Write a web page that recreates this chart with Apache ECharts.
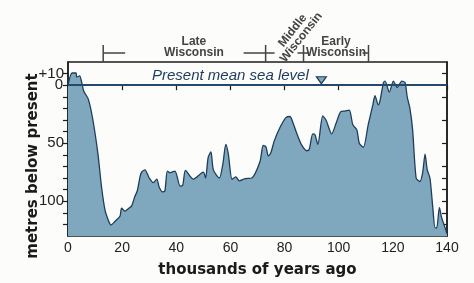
<!DOCTYPE html>
<html>
<head>
<meta charset="utf-8">
<script src="https://cdn.jsdelivr.net/npm/echarts@6/dist/echarts.min.js"></script>
<style>
html,body{margin:0;padding:0;background:#fcfcfa;}
#c{width:474px;height:283px;}
</style>
</head>
<body>
<div id="c"></div>
<script>
// ages (thousands of years ago)
const ages = [0,1.5,3.0,3.2,4.3,5.0,5.8,7.5,9.2,11.1,12.4,13.7,15,15.9,17.5,19.2,19.8,21,22.5,23.5,24.7,25.6,26.6,27.2,28.4,30,31.5,32.8,33.7,35,35.8,36.7,37.7,39.5,41.4,42.4,43.4,46.3,50,50.8,51.8,52.8,53.7,55.9,57.2,58.3,59.2,60.6,62,63.3,65.4,67.9,70.9,72.1,73.1,74,74.9,76.2,78.3,80.5,82,83.2,84.5,86.3,88.2,89.1,90.4,91.2,92.3,94.1,95.3,97.4,99.3,100.7,102.3,103.9,105.2,106.7,107.6,109.1,110.9,112.6,113.4,114.6,115.3,116.5,117.1,118.7,120.2,121.6,123.3,124.5,125.3,126.3,127.3,128.6,130,131,131.9,132.7,133.7,134.7,135.6,136.2,137.2,138,139.3,140];
// metres below present sea level (negative = above)
const depths = [0,-10.5,-10.5,-7,-8,-3,5,12,30,60,88,108,117,120.5,117,113,106,108.5,106,104,96,91,79,75,73,80,84,81,88,92,91,74,75.5,74,87,86,73.5,81,75,80,62,57.5,73,80,68,51,59,81,79,82.5,80.5,80,66,52,53,61,58.5,48,36.5,28,27,33,41.5,51.5,56.5,55.5,42,42.5,51,26.5,30,42,31,23,22.3,21.5,34,38.5,50,53.5,34,17,9,17,13,-2,-3.5,6,-3.5,2,-3.5,-2.3,10,20,38.5,80,83,75.5,59.5,73,80,104,123,123,105.5,114,123,128];
const xTicks = [0,20,40,60,80,100,120,140];
const yLabelValues = [-10,50,100];
const yLabelValues2 = [0];
const yLeftTicks = [-10,0,10,20,30,40,50,60,70,80,90,100,110,120];
const yRightTicks = [-10,10,30,50,70,80,90,100,110,120];
const periodBounds = [13,73,87,111];
const periodNames = ['Late\nWisconsin','Middle\nWisconsin','Early\nWisconsin'];
const periodLabelAges = [46.5,null,99];
const seaLevelText = 'Present mean sea level';
const seaMarker = [93.6,-4.3];

const chart = echarts.init(document.getElementById('c'), null, {renderer:'canvas'});
const dark = '#1d1d1d';
const lineBlue = '#1e3d5c';
const fillBlue = '#7fa8be';
const fontFam = '"Liberation Sans", Arial, sans-serif';
const fmt = v=> v<0 ? '+'+(-v) : String(v);
const yLabelStyle = {color:'#222',fontSize:15,fontFamily:fontFam,margin:4,hideOverlap:false,formatter:fmt};

chart.setOption({
  backgroundColor:'#fcfcfa',
  animation:false,
  grid:{left:68,right:27,top:62,bottom:46,show:true,borderColor:dark,borderWidth:1.5,backgroundColor:'transparent'},
  xAxis:{type:'value',min:0,max:140,interval:20,
    axisLine:{show:true,lineStyle:{color:dark,width:1.5}},
    axisTick:{show:true,length:5,lineStyle:{color:dark,width:1.2},customValues:xTicks},
    axisLabel:{color:'#222',fontSize:14,fontFamily:fontFam,margin:5,customValues:xTicks,hideOverlap:false},
    splitLine:{show:false},
    name:'thousands of years ago',nameLocation:'middle',nameGap:27,
    nameTextStyle:{fontSize:15,fontWeight:'bold',color:'#1a1a1a',fontFamily:'"DejaVu Sans", sans-serif'}
  },
  yAxis:[{type:'value',inverse:true,min:-20,max:130,interval:10,
    axisLine:{show:true,lineStyle:{color:dark,width:1.5}},
    axisTick:{show:true,length:5,lineStyle:{color:dark,width:1.2},customValues:yLeftTicks},
    axisLabel:Object.assign({customValues:yLabelValues},yLabelStyle),
    splitLine:{show:false}
  },{type:'value',inverse:true,min:-20,max:130,interval:10,position:'right',
    axisLine:{show:true,lineStyle:{color:dark,width:1.5}},
    axisTick:{show:true,inside:true,length:5,lineStyle:{color:dark,width:1.2},customValues:yRightTicks},
    axisLabel:{show:false},splitLine:{show:false}
  },{type:'value',inverse:true,min:-20,max:130,interval:10,position:'left',offset:0,
    axisLine:{show:false},axisTick:{show:false},splitLine:{show:false},
    axisLabel:Object.assign({customValues:yLabelValues2},yLabelStyle,{margin:5})
  }],
  series:[{
    type:'line',data:ages.map((a,i)=>[a,depths[i]]),
    smooth:0.25,symbol:'none',
    lineStyle:{color:lineBlue,width:1.3},
    areaStyle:{color:fillBlue,opacity:1,origin:'end'},
    markLine:{silent:true,symbol:'none',label:{show:false},
      lineStyle:{color:'#234a6d',width:2,type:'solid'},data:[{yAxis:0}]},
    markPoint:{silent:true,symbol:'triangle',symbolRotate:180,symbolSize:[10,7],
      itemStyle:{color:fillBlue,borderColor:lineBlue,borderWidth:1.2},
      label:{show:false},data:[{coord:seaMarker}]},
    z:2
  }]
});

function px(x,y){return chart.convertToPixel({gridIndex:0},[x,y]);}
const gTop = 62;
const els = [];
const bx = periodBounds.map(b=>px(b,0)[0]);
const br = {stroke:'#444',lineWidth:1.5};
const yBar = 53;
bx.forEach(x=>{
  els.push({type:'line',shape:{x1:x,y1:45,x2:x,y2:gTop},style:br});
});
// horizontal bracket arms
els.push({type:'line',shape:{x1:bx[0],y1:yBar,x2:bx[0]+22,y2:yBar},style:br});
els.push({type:'line',shape:{x1:bx[1]-22,y1:yBar,x2:bx[1]+9,y2:yBar},style:br});
els.push({type:'line',shape:{x1:bx[2]-6,y1:yBar,x2:bx[2]+6,y2:yBar},style:br});
els.push({type:'line',shape:{x1:bx[3]-6,y1:yBar,x2:bx[3],y2:yBar},style:br});
const tf = {fill:'#444',font:'bold 12px '+fontFam,align:'center',verticalAlign:'middle',lineHeight:11};
els.push({type:'text',x:px(periodLabelAges[0],0)[0],y:47,style:Object.assign({text:periodNames[0]},tf)});
els.push({type:'text',x:(bx[2]+bx[3])/2,y:47,style:Object.assign({text:periodNames[2]},tf)});
els.push({type:'text',x:297,y:34,rotation:0.9,style:Object.assign({text:periodNames[1]},tf)});
// sea level text
const sp = px(0,0);
els.push({type:'text',x:152,y:sp[1]-2,style:{text:seaLevelText,fill:'#1f3d63',font:'italic 15px '+fontFam,align:'left',verticalAlign:'bottom'}});
// y axis name
els.push({type:'text',x:33,y:166,rotation:Math.PI/2,style:{text:'metres below present',fill:'#1a1a1a',font:'bold 15px "DejaVu Sans", sans-serif',align:'center',verticalAlign:'middle'}});
chart.setOption({graphic:els});
</script>
</body>
</html>
